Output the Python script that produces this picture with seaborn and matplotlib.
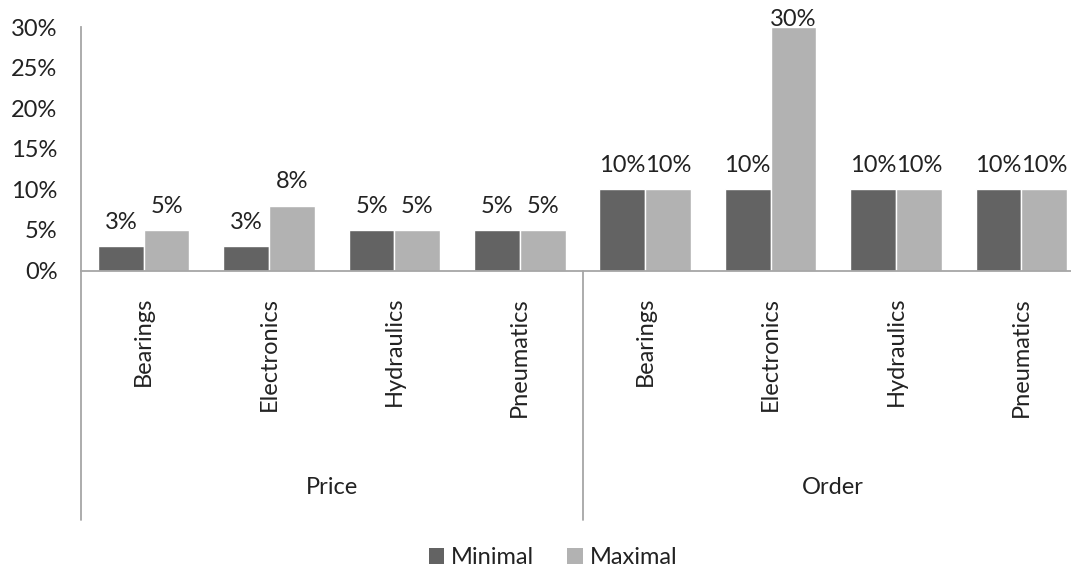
import matplotlib
matplotlib.use("Agg")
import matplotlib.pyplot as plt
from matplotlib.lines import Line2D
from matplotlib.patches import Patch
from matplotlib.ticker import PercentFormatter
from matplotlib import transforms
import pandas as pd
import seaborn as sns

# Data
groups = ["Price", "Order"]
categories = ["Bearings", "Electronics", "Hydraulics", "Pneumatics"]
series = ["Minimal", "Maximal"]
minimal = [0.03, 0.03, 0.05, 0.05, 0.10, 0.10, 0.10, 0.10]
maximal = [0.05, 0.08, 0.05, 0.05, 0.10, 0.30, 0.10, 0.10]
y_ticks = [0.0, 0.05, 0.10, 0.15, 0.20, 0.25, 0.30]

DARK = "#636363"
LIGHT = "#b2b2b2"
AXIS = "#a6a6a6"
TEXT = "#222222"
Y_MAX = 0.30

sns.set_style("white")
plt.rcParams["font.family"] = ["Lato", "DejaVu Sans"]
plt.rcParams["text.color"] = TEXT

keys = [f"{g}|{c}" for g in groups for c in categories]
df = pd.DataFrame({
    "key": keys * 2,
    "series": [series[0]] * len(keys) + [series[1]] * len(keys),
    "value": minimal + maximal,
})

W, H = 1071, 571
fig = plt.figure(figsize=(W / 100, H / 100), dpi=100)
ax = fig.add_axes([81 / W, (H - 270.5) / H, 1003 / W, 243.5 / H])

sns.barplot(data=df, x="key", y="value", hue="series", order=keys,
            hue_order=series, palette=[DARK, LIGHT], saturation=1,
            width=0.73, gap=0, legend=False, ax=ax)

ax.set_xlim(-0.5, 7.5)
ax.set_ylim(0, Y_MAX)
ax.set_yticks(y_ticks)
ax.yaxis.set_major_formatter(PercentFormatter(1.0, decimals=0))
ax.set_xticks(range(len(keys)))
ax.set_xticklabels([k.split("|")[1] for k in keys], rotation=90, va="top")
ax.set_xlabel("")
ax.set_ylabel("")
ax.tick_params(axis="both", length=0, labelsize=17, colors=TEXT)
ax.tick_params(axis="y", pad=17)
ax.tick_params(axis="x", pad=19)

for side in ("top", "right"):
    ax.spines[side].set_visible(False)
for side in ("left", "bottom"):
    ax.spines[side].set_color(AXIS)
    ax.spines[side].set_linewidth(1.3)

# Value labels; a label on a bar reaching the top of the scale sits
# right on the bar so it stays inside the chart.
for cont in ax.containers:
    vals = cont.datavalues
    anns = ax.bar_label(cont, labels=[f"{v:.0%}" for v in vals], padding=9.5,
                        fontsize=17, color=TEXT, clip_on=False)
    for v, ann in zip(vals, anns):
        if v >= Y_MAX - 1e-9:
            ann.xyann = (0, -2.5)

# Multi-level category axis: dividers and group labels
blend = transforms.blended_transform_factory(ax.transData, fig.transFigure)
for xpos in (-0.5, 3.5):
    fig.add_artist(Line2D([xpos, xpos], [(H - 270.5) / H, (H - 520) / H],
                          transform=blend, color=AXIS, lw=1.3))
for i, g in enumerate(groups):
    fig.text(i * 4 + 1.5, (H - 487) / H, g, transform=blend, ha="center",
             va="center", fontsize=17, color=TEXT)

handles = [Patch(facecolor=DARK, edgecolor="none"),
           Patch(facecolor=LIGHT, edgecolor="none")]
fig.legend(handles, series, loc="center", bbox_to_anchor=(553 / W, (H - 558) / H),
           ncol=2, frameon=False, fontsize=17, handlelength=0.65,
           handleheight=0.65, handletextpad=0.3, columnspacing=1.4)

fig.savefig("out.png", dpi=100)
